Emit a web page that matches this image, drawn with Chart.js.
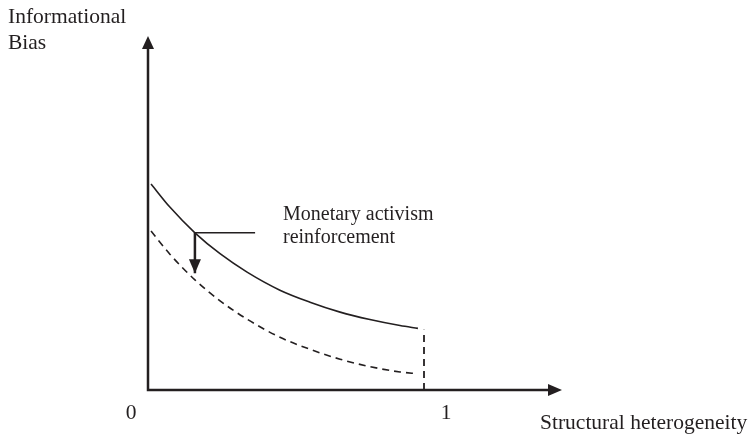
<!DOCTYPE html>
<html>
<head>
<meta charset="utf-8">
<script src="https://cdn.jsdelivr.net/npm/chart.js@4.4.0/dist/chart.umd.min.js"></script>
<style>
  body { margin: 0; background: #fff; }
  canvas { display: block; }
</style>
</head>
<body>
<canvas id="grafico" width="751" height="440"></canvas>
<script>
// values (x: structural heterogeneity, y: informational bias)
const heterogeneity = [0.011, 0.080, 0.170, 0.261, 0.359, 0.478, 0.587, 0.696, 0.804, 0.913, 0.978]
const bias_before = [0.582, 0.516, 0.444, 0.385, 0.333, 0.282, 0.248, 0.220, 0.199, 0.182, 0.174]
const bias_after = [0.449, 0.383, 0.311, 0.252, 0.200, 0.149, 0.115, 0.087, 0.066, 0.051, 0.046]

const limit_x = [1.0, 1.0]
const limit_y = [0, 0.17]

// annotation: hook on the solid curve and arrow pointing down
const hook_x = [0.17, 0.388]
const hook_y = [0.444, 0.444]
const arrow_x = [0.17, 0.17]
const arrow_y = [0.444, 0.33]

const tick_values = [0, 1]
const tick_labels = ['0', '1']
const y_title = ['Informational', 'Bias']
const x_title = 'Structural heterogeneity'
const note_lines = ['Monetary activism', 'reinforcement']

const ink = '#231f20'
const font = '21.5px "Liberation Serif", "Times New Roman", serif'
const note_font = '20px "Liberation Serif", "Times New Roman", serif'

function pontos(xs, ys){
    var out = []
    for(let i = 0; i < xs.length; i++){
        out.push({x: xs[i], y: ys[i]})
    }
    return out
}

function seta(ctx, x, y, dir, len, half){
    // filled triangular arrow head, tip at (x, y)
    ctx.beginPath()
    if(dir == 'up'){
        ctx.moveTo(x, y); ctx.lineTo(x - half, y + len); ctx.lineTo(x + half, y + len)
    } else if(dir == 'down'){
        ctx.moveTo(x, y); ctx.lineTo(x - half, y - len); ctx.lineTo(x + half, y - len)
    } else {
        ctx.moveTo(x, y); ctx.lineTo(x - len, y - half); ctx.lineTo(x - len, y + half)
    }
    ctx.closePath()
    ctx.fill()
}

const desenho = {
    id: 'desenho',
    afterDatasetsDraw(chart){
        const ctx = chart.ctx
        const sx = chart.scales.x
        const sy = chart.scales.y
        const x0 = sx.getPixelForValue(0)
        const y0 = sy.getPixelForValue(0)
        const top = sy.getPixelForValue(sy.max)
        const right = sx.getPixelForValue(sx.max)

        ctx.save()
        ctx.strokeStyle = ink
        ctx.fillStyle = ink
        ctx.lineWidth = 2.5
        ctx.setLineDash([])

        // axes
        ctx.beginPath()
        ctx.moveTo(x0, top + 10)
        ctx.lineTo(x0, y0)
        ctx.lineTo(right - 10, y0)
        ctx.stroke()
        seta(ctx, x0, top, 'up', 13, 6)
        seta(ctx, right, y0, 'right', 14, 6)

        // arrow head of the annotation
        seta(ctx, sx.getPixelForValue(arrow_x[1]), sy.getPixelForValue(arrow_y[1]), 'down', 14, 6)

        // texts
        ctx.font = font
        ctx.textBaseline = 'alphabetic'
        ctx.textAlign = 'left'
        ctx.fillText(y_title[0], 8, 23)
        ctx.fillText(y_title[1], 8, 49)
        ctx.fillText(x_title, 540, 429)

        ctx.font = note_font
        ctx.fillText(note_lines[0], 283, 220)
        ctx.fillText(note_lines[1], 283, 243)

        ctx.font = font
        ctx.textAlign = 'center'
        ctx.fillText(tick_labels[0], sx.getPixelForValue(tick_values[0]) - 17, 419)
        ctx.fillText(tick_labels[1], sx.getPixelForValue(tick_values[1]) + 22, 419)
        ctx.restore()
    }
}

const ctx = document.getElementById('grafico').getContext('2d')
const myChart = new Chart(ctx, {
    type: 'scatter',
    data: {
        datasets: [{
            data: pontos(heterogeneity, bias_before),
            showLine: true,
            borderColor: ink,
            borderWidth: 1.6,
            pointRadius: 0,
            cubicInterpolationMode: 'monotone',
            clip: false
        }, {
            data: pontos(heterogeneity, bias_after),
            showLine: true,
            borderColor: ink,
            borderWidth: 1.6,
            borderDash: [7, 5],
            pointRadius: 0,
            cubicInterpolationMode: 'monotone',
            clip: false
        }, {
            data: pontos(limit_x, limit_y),
            showLine: true,
            borderColor: ink,
            borderWidth: 1.8,
            borderDash: [7, 5],
            pointRadius: 0,
            clip: false
        }, {
            data: pontos(hook_x, hook_y),
            showLine: true,
            borderColor: ink,
            borderWidth: 1.5,
            pointRadius: 0,
            clip: false
        }, {
            data: pontos(arrow_x, arrow_y),
            showLine: true,
            borderColor: ink,
            borderWidth: 2.5,
            pointRadius: 0,
            clip: false
        }]
    },
    options: {
        responsive: false,
        animation: false,
        layout: { padding: { left: 148, right: 189, top: 36, bottom: 50 } },
        plugins: { legend: { display: false }, tooltip: { enabled: false } },
        scales: {
            x: { type: 'linear', min: 0, max: 1.5, display: false },
            y: { type: 'linear', min: 0, max: 1, display: false }
        }
    },
    plugins: [desenho]
});
</script>
</body>
</html>
